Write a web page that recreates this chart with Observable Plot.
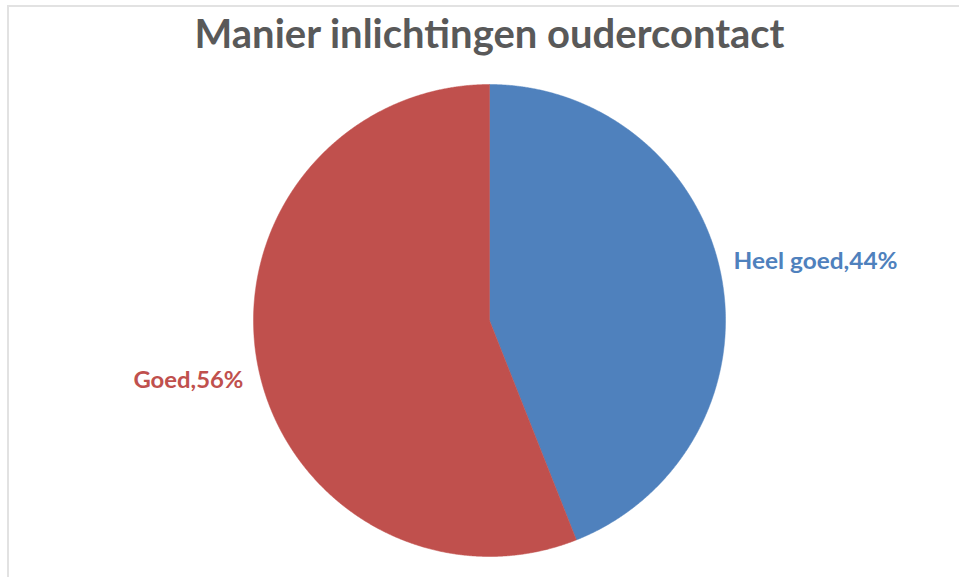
<!DOCTYPE html>
<html>
<head>
<meta charset="utf-8">
<script src="https://cdn.jsdelivr.net/npm/d3@7"></script>
<script src="https://cdn.jsdelivr.net/npm/@observablehq/plot@0.6"></script>
<style>
  html, body { margin: 0; padding: 0; background: #fff; }
  #wrap { position: relative; width: 959px; height: 577px; overflow: hidden; }
  #border { position: absolute; left: 7px; top: 5px; right: -10px; bottom: -10px;
            border-top: 2px solid #e2e2e2; border-left: 2px solid #e2e2e2; pointer-events: none; }
</style>
</head>
<body>
<div id="wrap"><div id="chart"></div><div id="border"></div></div>
<script>
const title = "Manier inlichtingen oudercontact";
const categories = ["Heel goed", "Goed"];
const values = [44, 56];
const labels = ["Heel goed,44%", "Goed,56%"];
const colors = ["#4F81BD", "#C0504D"];

const arcs = d3.pie().sort(null).value(d => d.value)(
  categories.map((c, i) => ({category: c, value: values[i], label: labels[i], color: colors[i]}))
);

function slicePoints(a) {
  const pts = [{x: 0, y: 0}];
  const n = Math.max(2, Math.ceil((a.endAngle - a.startAngle) / (Math.PI / 720)));
  for (let k = 0; k <= n; k++) {
    const t = a.startAngle + (a.endAngle - a.startAngle) * k / n;
    pts.push({x: Math.sin(t), y: Math.cos(t)});
  }
  pts.push({x: 0, y: 0});
  return pts;
}

const labelData = arcs.map(a => {
  const m = (a.startAngle + a.endAngle) / 2;
  return {x: Math.sin(m) * 1.04, y: Math.cos(m) * 1.04, label: a.data.label, color: a.data.color, right: Math.sin(m) >= 0};
});

const plot = Plot.plot({
  width: 959,
  height: 577,
  margin: 0,
  x: {domain: [-1, 1], range: [253, 725], axis: null},
  y: {domain: [-1, 1], range: [556, 84], axis: null},
  style: {background: "transparent"},
  marks: [
    ...arcs.map(a => Plot.line(slicePoints(a), {x: "x", y: "y", fill: a.data.color, stroke: a.data.color, strokeWidth: 0.5, curve: "linear"})),
    Plot.text(labelData.filter(d => d.right), {x: "x", y: "y", text: "label", fill: "color", textAnchor: "start", dx: 3, dy: -13,
      fontFamily: "Lato", fontWeight: "bold", fontSize: 22, lineAnchor: "middle"}),
    Plot.text(labelData.filter(d => !d.right), {x: "x", y: "y", text: "label", fill: "color", textAnchor: "end", dx: -5, dy: 14,
      fontFamily: "Lato", fontWeight: "bold", fontSize: 22, lineAnchor: "middle"}),
    Plot.text([title], {x: () => 0, frameAnchor: "top", text: d => d, dy: 35, lineAnchor: "middle",
      fill: "#595959", fontFamily: "Lato", fontWeight: "bold", fontSize: 40})
  ]
});

document.getElementById("chart").appendChild(plot);

const widths = {[title]: 590, [labels[0]]: 164, [labels[1]]: 110};
plot.querySelectorAll("text").forEach(t => {
  const w = widths[t.textContent];
  if (w) { t.setAttribute("textLength", w); t.setAttribute("lengthAdjust", "spacingAndGlyphs"); }
});
</script>
</body>
</html>
